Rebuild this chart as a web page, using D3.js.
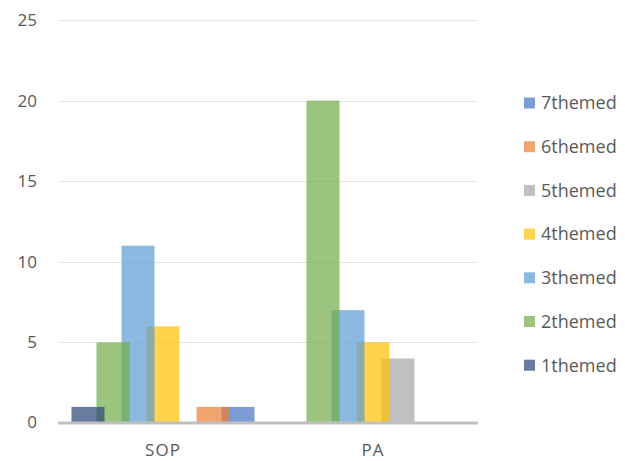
<!DOCTYPE html>
<html><head><meta charset="utf-8">
<script src="https://cdn.jsdelivr.net/npm/d3@7"></script>
<style>body{margin:0;background:#fff}svg{display:block}text{font-family:"Open Sans",sans-serif;fill:#595959}</style>
</head><body><svg id="c" width="625" height="461"></svg>
<script>
const categories = ["SOP", "PA"];
const seriesNames = ["1themed","2themed","3themed","4themed","5themed","6themed","7themed"];
const seriesColors = ["#264478","#70AD47","#5B9BD5","#FFC000","#A5A5A5","#ED7D31","#4472C4"];
const s1 = [1, 0];
const s2 = [5, 20];
const s3 = [11, 7];
const s4 = [6, 5];
const s5 = [0, 4];
const s6 = [1, 0];
const s7 = [1, 0];
const seriesValues = [s1, s2, s3, s4, s5, s6, s7];
const yTicks = [0, 5, 10, 15, 20, 25];

const svg = d3.select("#c");
const mLeft = 58, mRight = 478, mTop = 20, mBottom = 423;
const x = d3.scaleBand().domain(categories).range([mLeft, mRight]);
const sub = d3.scalePoint().domain(seriesNames).range([-75, 75]);
const bw = 33;
const y = d3.scaleLinear().domain([0, 25]).range([mBottom, mTop]);

// gridlines
svg.append("g").selectAll("line").data(yTicks.filter(t => t > 0)).join("line")
  .attr("x1", mLeft).attr("x2", mRight)
  .attr("y1", d => Math.round(y(d)) + 0.5).attr("y2", d => Math.round(y(d)) + 0.5)
  .attr("stroke", "#e6e6e6").attr("stroke-width", 1);

// y labels
svg.append("g").selectAll("text").data(yTicks).join("text")
  .attr("x", 37).attr("y", d => y(d) - (d === 0 ? 1 : 0)).attr("dy", "0.35em")
  .attr("text-anchor", "end").attr("font-size", 17).text(d => d);

// bars (earlier series drawn on top)
seriesNames.slice().reverse().forEach(name => {
  const i = seriesNames.indexOf(name);
  svg.append("g").selectAll("rect").data(categories.map((c, j) => ({c, v: seriesValues[i][j]})).filter(d => d.v > 0))
    .join("rect")
    .attr("x", d => x(d.c) + x.bandwidth() / 2 + sub(name) - bw / 2)
    .attr("width", bw)
    .attr("y", d => y(d.v))
    .attr("height", d => y(0) - y(d.v))
    .attr("fill", seriesColors[i]).attr("fill-opacity", 0.7);
});

// axis line
svg.append("line").attr("x1", mLeft).attr("x2", mRight).attr("y1", mBottom).attr("y2", mBottom)
  .attr("stroke", "#bfbfbf").attr("stroke-width", 3);

// category labels
svg.append("g").selectAll("text").data(categories).join("text")
  .attr("x", d => x(d) + x.bandwidth() / 2).attr("y", 450).attr("dy", "0.35em")
  .attr("text-anchor", "middle").attr("font-size", 17).attr("letter-spacing", 1).text(d => d);

// legend
const legendOrder = seriesNames.map((n, i) => i).reverse();
const lg = svg.append("g").selectAll("g").data(legendOrder).join("g")
  .attr("transform", (d, k) => `translate(524, ${103 + k * 43.7})`);
lg.append("rect").attr("x", 0).attr("y", -5.5).attr("width", 11).attr("height", 11)
  .attr("fill", d => seriesColors[d]).attr("fill-opacity", 0.7);
lg.append("text").attr("x", 17).attr("y", 0).attr("dy", "0.35em").attr("font-size", 18)
  .text(d => seriesNames[d]);
</script></body></html>
